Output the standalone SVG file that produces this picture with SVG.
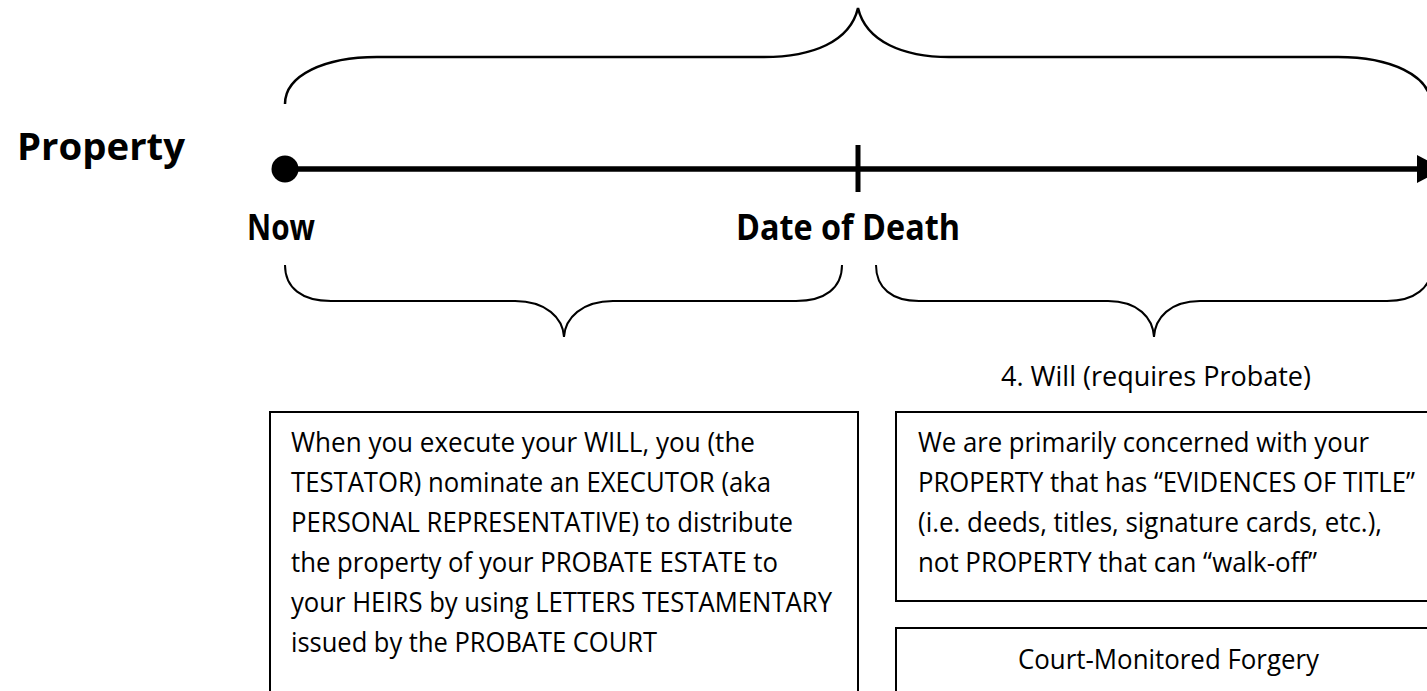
<svg xmlns="http://www.w3.org/2000/svg" width="1427" height="691" viewBox="0 0 1427 691">
<style>
.brace{fill:none;stroke:#000;stroke-width:2}
.brace-top{fill:none;stroke:#000;stroke-width:2.5}
.box{fill:#fff;stroke:#000;stroke-width:2}
.lbl{font-family:"Open Sans","Noto Sans",sans-serif;font-weight:bold;fill:#000}
.txt{font-family:"Open Sans","Noto Sans",sans-serif;font-size:26.4px;fill:#000}
</style>
<rect width="1427" height="691" fill="#fff"/>
<g id="braces">
<path class="brace-top" d="M285,104 C285,75 325,57 377,57 L764,57 C812,57 850,42 858,8 C866,42 904,57 949,57 L1338,57 C1390,57 1430,75 1431,104"/>
<path class="brace" d="M285,265 C285,288 302,301 331,301 L515,301 C546,301 563,318 564,337 C565,318 582,301 613,301 L796,301 C825,301 842,288 842,265"/>
<path class="brace" d="M876,265 C876,288 892,301 919,301 L1108,301 C1138,301 1153,318 1154,337 C1155,318 1170,301 1200,301 L1387,301 C1414,301 1432,288 1432,265"/>
</g>
<g id="connectors">
<line x1="286" y1="169" x2="1420" y2="169" stroke="#000" stroke-width="5.5"/>
<polygon points="1417,155 1417,183 1444,169" fill="#000"/>
<line x1="858" y1="145" x2="858" y2="192" stroke="#000" stroke-width="5"/>
</g>
<g id="node-now-dot"><circle cx="285" cy="169" r="13.5" fill="#000"/></g>
<g id="label-property"><text class="lbl" x="17" y="160" font-size="37" textLength="168" lengthAdjust="spacingAndGlyphs">Property</text></g>
<g id="label-now"><text class="lbl" x="247" y="240" font-size="35" textLength="68" lengthAdjust="spacingAndGlyphs">Now</text></g>
<g id="label-death"><text class="lbl" x="736" y="240" font-size="35" textLength="224" lengthAdjust="spacingAndGlyphs">Date of Death</text></g>
<g id="label-will"><text class="txt" x="1001" y="386" textLength="310" lengthAdjust="spacingAndGlyphs">4. Will (requires Probate)</text></g>
<g id="box-will">
<rect class="box" x="270" y="412" width="588" height="300"/>
<text class="txt" x="291" y="452" textLength="464" lengthAdjust="spacingAndGlyphs">When you execute your WILL, you (the</text>
<text class="txt" x="291" y="492" textLength="480" lengthAdjust="spacingAndGlyphs">TESTATOR) nominate an EXECUTOR (aka</text>
<text class="txt" x="291" y="532" textLength="502" lengthAdjust="spacingAndGlyphs">PERSONAL REPRESENTATIVE) to distribute</text>
<text class="txt" x="291" y="572" textLength="487" lengthAdjust="spacingAndGlyphs">the property of your PROBATE ESTATE to</text>
<text class="txt" x="291" y="612" textLength="541" lengthAdjust="spacingAndGlyphs">your HEIRS by using LETTERS TESTAMENTARY</text>
<text class="txt" x="291" y="652" textLength="366" lengthAdjust="spacingAndGlyphs">issued by the PROBATE COURT</text>
</g>
<g id="box-property">
<rect class="box" x="896" y="412" width="560" height="189"/>
<text class="txt" x="918" y="452" textLength="451" lengthAdjust="spacingAndGlyphs">We are primarily concerned with your</text>
<text class="txt" x="918" y="492" textLength="497" lengthAdjust="spacingAndGlyphs">PROPERTY that has “EVIDENCES OF TITLE”</text>
<text class="txt" x="918" y="532" textLength="464" lengthAdjust="spacingAndGlyphs">(i.e. deeds, titles, signature cards, etc.),</text>
<text class="txt" x="918" y="572" textLength="399" lengthAdjust="spacingAndGlyphs">not PROPERTY that can “walk-off”</text>
</g>
<g id="box-forgery">
<rect class="box" x="896" y="628" width="560" height="100"/>
<text class="txt" x="1018" y="669" textLength="301" lengthAdjust="spacingAndGlyphs">Court-Monitored Forgery</text>
</g>
</svg>
